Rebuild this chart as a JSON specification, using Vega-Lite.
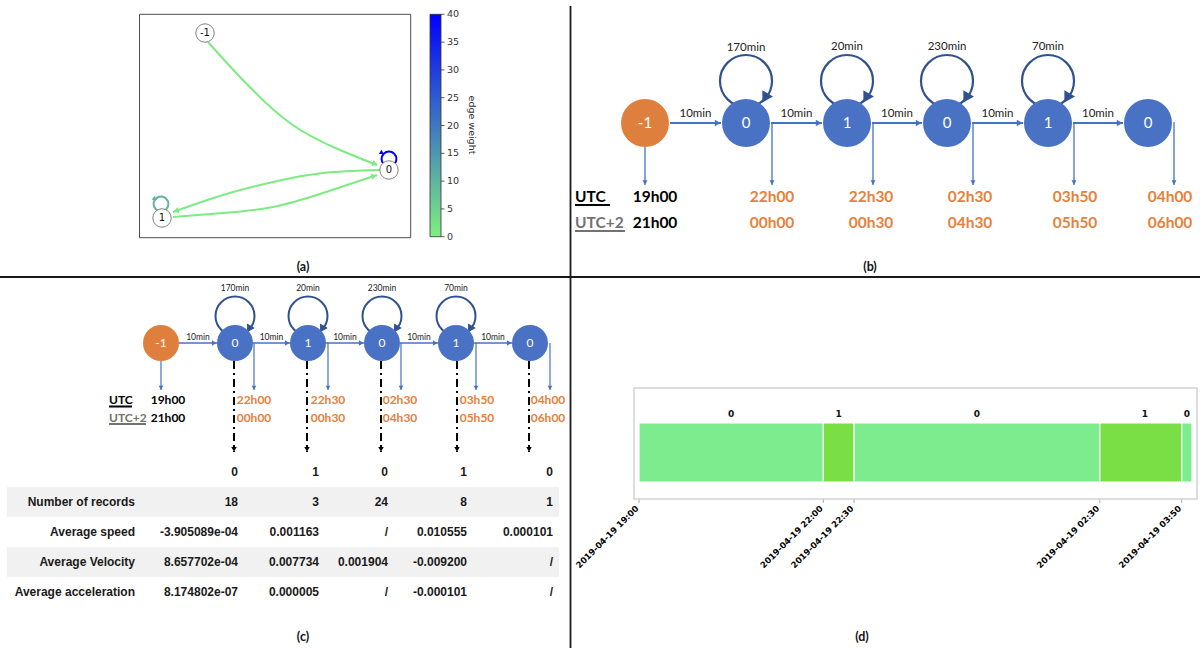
{
"$schema":"https://vega.github.io/schema/vega-lite/v6.json",
"width":1200,"height":648,"autosize":"none","padding":0,"background":"white",
"config":{"view":{"stroke":null}},
"datasets":{
"dividers":[{"x":570.5,"y":6,"xe":570.5,"ye":648},{"x":0,"y":277,"xe":1200,"ye":277}],
"frames":[{"p":"a","x":139.5,"y":14.3,"xe":410.7,"ye":237.7},{"p":"d","x":634,"y":388,"xe":1197,"ye":499}],
"plabels":[{"x":303,"y":267,"text":"(a)"},{"x":870,"y":267,"text":"(b)"},{"x":303,"y":637,"text":"(c)"},{"x":862,"y":637,"text":"(d)"}],
"bnodes":[{"x":645,"y":123,"label":"-1","kind":"start"},{"x":746,"y":123,"label":"0","kind":"state"},{"x":847,"y":123,"label":"1","kind":"state"},{"x":947,"y":123,"label":"0","kind":"state"},{"x":1048,"y":123,"label":"1","kind":"state"},{"x":1148,"y":123,"label":"0","kind":"state"}],
"bloops":[{"x":746,"y":81},{"x":847,"y":81},{"x":947,"y":81},{"x":1048,"y":81}],
"bh":[{"x":670,"xe":721,"y":123},{"x":771,"xe":822,"y":123},{"x":872,"xe":922,"y":123},{"x":972,"xe":1023,"y":123},{"x":1073,"xe":1123,"y":123}],
"bv":[{"x":645,"y":147,"ye":185},{"x":772,"y":122,"ye":185},{"x":873,"y":122,"ye":185},{"x":973,"y":122,"ye":185},{"x":1074,"y":122,"ye":185},{"x":1174,"y":122,"ye":185}],
"btext":[{"x":695.5,"y":114,"text":"10min"},{"x":796.5,"y":114,"text":"10min"},{"x":897,"y":114,"text":"10min"},{"x":997.5,"y":114,"text":"10min"},{"x":1098,"y":114,"text":"10min"},{"x":746,"y":48,"text":"170min"},{"x":847,"y":47,"text":"20min"},{"x":947,"y":47,"text":"230min"},{"x":1048,"y":47,"text":"70min"}],
"cnodes":[{"x":161,"y":343,"label":"-1","kind":"start"},{"x":235,"y":343,"label":"0","kind":"state"},{"x":308,"y":343,"label":"1","kind":"state"},{"x":382,"y":343,"label":"0","kind":"state"},{"x":456,"y":343,"label":"1","kind":"state"},{"x":530,"y":343,"label":"0","kind":"state"}],
"cloops":[{"x":235,"y":316},{"x":308,"y":316},{"x":382,"y":316},{"x":456,"y":316}],
"ch":[{"x":179,"xe":217,"y":343},{"x":253,"xe":290,"y":343},{"x":326,"xe":364,"y":343},{"x":400,"xe":438,"y":343},{"x":474,"xe":512,"y":343}],
"cv":[{"x":161,"y":361,"ye":390},{"x":254,"y":343,"ye":390},{"x":328,"y":343,"ye":390},{"x":401,"y":343,"ye":390},{"x":476,"y":343,"ye":390},{"x":550,"y":343,"ye":390}],
"cdash":[{"x":234,"y":361,"ye":452},{"x":307,"y":361,"ye":452},{"x":381,"y":361,"ye":452},{"x":457,"y":361,"ye":452},{"x":529,"y":361,"ye":452}],
"ctext":[{"x":198,"y":337,"text":"10min"},{"x":271.5,"y":337,"text":"10min"},{"x":345,"y":337,"text":"10min"},{"x":419,"y":337,"text":"10min"},{"x":493,"y":337,"text":"10min"},{"x":235,"y":288,"text":"170min"},{"x":308,"y":288,"text":"20min"},{"x":382,"y":288,"text":"230min"},{"x":456,"y":288,"text":"70min"}],
"stamps":[
{"p":"b","tone":"base","x":655,"y":197,"text":"19h00"},{"p":"b","tone":"base","x":655,"y":223,"text":"21h00"},
{"p":"b","tone":"shift","x":772,"y":197,"text":"22h00"},{"p":"b","tone":"shift","x":871,"y":197,"text":"22h30"},{"p":"b","tone":"shift","x":970,"y":197,"text":"02h30"},{"p":"b","tone":"shift","x":1075,"y":197,"text":"03h50"},{"p":"b","tone":"shift","x":1170,"y":197,"text":"04h00"},
{"p":"b","tone":"shift","x":772,"y":223,"text":"00h00"},{"p":"b","tone":"shift","x":871,"y":223,"text":"00h30"},{"p":"b","tone":"shift","x":970,"y":223,"text":"04h30"},{"p":"b","tone":"shift","x":1075,"y":223,"text":"05h50"},{"p":"b","tone":"shift","x":1170,"y":223,"text":"06h00"},
{"p":"c","tone":"base","x":168,"y":400,"text":"19h00"},{"p":"c","tone":"base","x":168,"y":418,"text":"21h00"},
{"p":"c","tone":"shift","x":254,"y":400,"text":"22h00"},{"p":"c","tone":"shift","x":328,"y":400,"text":"22h30"},{"p":"c","tone":"shift","x":400,"y":400,"text":"02h30"},{"p":"c","tone":"shift","x":477,"y":400,"text":"03h50"},{"p":"c","tone":"shift","x":548,"y":400,"text":"04h00"},
{"p":"c","tone":"shift","x":254,"y":418,"text":"00h00"},{"p":"c","tone":"shift","x":328,"y":418,"text":"00h30"},{"p":"c","tone":"shift","x":400,"y":418,"text":"04h30"},{"p":"c","tone":"shift","x":477,"y":418,"text":"05h50"},{"p":"c","tone":"shift","x":548,"y":418,"text":"06h00"}],
"tz":[{"p":"b","tone":"utc","x":575,"y":197,"text":"UTC"},{"p":"b","tone":"local","x":575,"y":223,"text":"UTC+2"},{"p":"c","tone":"utc","x":109,"y":400,"text":"UTC"},{"p":"c","tone":"local","x":109,"y":418,"text":"UTC+2"}],
"tzline":[{"tone":"utc","x":575,"xe":610,"y":205},{"tone":"local","x":575,"xe":625,"y":231},{"tone":"utc","x":109,"xe":132,"y":406.5},{"tone":"local","x":109,"xe":146,"y":424}],
"aedges":[
{"e":"e1","i":0,"x":208,"y":42,"w":1},{"e":"e1","i":1,"x":240,"y":77,"w":1},{"e":"e1","i":2,"x":290,"y":123,"w":1},{"e":"e1","i":3,"x":340,"y":150,"w":1},{"e":"e1","i":4,"x":377,"y":165,"w":1},
{"e":"e2","i":0,"x":380,"y":170,"w":1},{"e":"e2","i":1,"x":323,"y":173,"w":1},{"e":"e2","i":2,"x":273,"y":182,"w":1},{"e":"e2","i":3,"x":223,"y":195,"w":1},{"e":"e2","i":4,"x":173,"y":212,"w":1},
{"e":"e3","i":0,"x":173,"y":217,"w":1},{"e":"e3","i":1,"x":223,"y":213,"w":1},{"e":"e3","i":2,"x":273,"y":207,"w":1},{"e":"e3","i":3,"x":323,"y":193,"w":1},{"e":"e3","i":4,"x":377,"y":175,"w":1}],
"aloops":[{"x":389,"y":159,"w":40},{"x":161,"y":204,"w":10}],
"aarrows":[{"k":"e1","x":375,"y":164,"w":1},{"k":"e2","x":176,"y":211,"w":1},{"k":"e3","x":374,"y":176,"w":1},{"k":"l0","x":382,"y":153,"w":40},{"k":"l1","x":155,"y":199,"w":10}],
"anodes":[{"x":205,"y":33,"label":"-1"},{"x":389,"y":170,"label":"0"},{"x":162,"y":218,"label":"1"}],
"cbticks":[{"v":0},{"v":5},{"v":10},{"v":15},{"v":20},{"v":25},{"v":30},{"v":35},{"v":40}],
"tbands":[{"r0":0.5,"r1":1.5},{"r0":2.5,"r1":3.5}],
"table":[
{"row":0,"col":1,"text":"0"},{"row":0,"col":2,"text":"1"},{"row":0,"col":3,"text":"0"},{"row":0,"col":4,"text":"1"},{"row":0,"col":5,"text":"0"},
{"row":1,"col":0,"text":"Number of records"},{"row":1,"col":1,"text":"18"},{"row":1,"col":2,"text":"3"},{"row":1,"col":3,"text":"24"},{"row":1,"col":4,"text":"8"},{"row":1,"col":5,"text":"1"},
{"row":2,"col":0,"text":"Average speed"},{"row":2,"col":1,"text":"-3.905089e-04"},{"row":2,"col":2,"text":"0.001163"},{"row":2,"col":3,"text":"/"},{"row":2,"col":4,"text":"0.010555"},{"row":2,"col":5,"text":"0.000101"},
{"row":3,"col":0,"text":"Average Velocity"},{"row":3,"col":1,"text":"8.657702e-04"},{"row":3,"col":2,"text":"0.007734"},{"row":3,"col":3,"text":"0.001904"},{"row":3,"col":4,"text":"-0.009200"},{"row":3,"col":5,"text":"/"},
{"row":4,"col":0,"text":"Average acceleration"},{"row":4,"col":1,"text":"8.174802e-07"},{"row":4,"col":2,"text":"0.000005"},{"row":4,"col":3,"text":"/"},{"row":4,"col":4,"text":"-0.000101"},{"row":4,"col":5,"text":"/"}],
"timeline":[
{"start":"2019-04-19T19:00:00","end":"2019-04-19T22:00:00","mid":"2019-04-19T20:30:00","state":"0"},
{"start":"2019-04-19T22:00:00","end":"2019-04-19T22:30:00","mid":"2019-04-19T22:15:00","state":"1"},
{"start":"2019-04-19T22:30:00","end":"2019-04-20T02:30:00","mid":"2019-04-20T00:30:00","state":"0"},
{"start":"2019-04-20T02:30:00","end":"2019-04-20T03:50:00","mid":"2019-04-20T03:14:00","state":"1"},
{"start":"2019-04-20T03:50:00","end":"2019-04-20T04:00:00","mid":"2019-04-20T03:55:00","state":"0"}],
"tticks":[{"t":"2019-04-19T19:00:00","label":"2019-04-19 19:00"},{"t":"2019-04-19T22:00:00","label":"2019-04-19 22:00"},{"t":"2019-04-19T22:30:00","label":"2019-04-19 22:30"},{"t":"2019-04-20T02:30:00","label":"2019-04-19 02:30"},{"t":"2019-04-20T03:50:00","label":"2019-04-19 03:50"}]
},
"resolve":{"scale":{"x":"independent","y":"independent","color":"independent"}},
"layer":[
{
"encoding":{"x":{"field":"x","type":"quantitative","scale":{"domain":[0,1200],"range":[0,1200],"nice":false,"zero":false},"axis":null},
"y":{"field":"y","type":"quantitative","scale":{"domain":[0,648],"range":[0,648],"nice":false,"zero":false},"axis":null}},
"layer":[
{"data":{"name":"dividers"},"mark":{"type":"rule","color":"#1a1a1a","strokeWidth":1.8},"encoding":{"x2":{"field":"xe"},"y2":{"field":"ye"}}},
{"data":{"name":"frames"},"transform":[{"filter":"datum.p==='a'"}],"mark":{"type":"rect","filled":false,"color":"#4d4d4d","strokeWidth":1},"encoding":{"x2":{"field":"xe"},"y2":{"field":"ye"}}},
{"data":{"name":"frames"},"transform":[{"filter":"datum.p==='d'"}],"mark":{"type":"rect","filled":false,"color":"#d2d2d2","strokeWidth":1.5},"encoding":{"x2":{"field":"xe"},"y2":{"field":"ye"}}},
{"data":{"name":"plabels"},"mark":{"type":"text","font":"Lato","fontWeight":"bold","fontSize":12.5,"color":"#111"},"encoding":{"text":{"field":"text"}}},
{"data":{"values":[{"x":472,"y":125,"text":"edge weight"}]},"mark":{"type":"text","font":"DejaVu Sans","fontSize":9.5,"angle":90,"color":"#333"},"encoding":{"text":{"field":"text"}}},
{"data":{"name":"bloops"},"mark":{"type":"point","shape":"circle","filled":false,"size":2704,"color":"#2F528F","strokeWidth":2.2,"opacity":1}},
{"data":{"name":"bloops"},"mark":{"type":"point","shape":"triangle-up","filled":true,"size":150,"color":"#2F528F","opacity":1,"angle":210,"xOffset":19,"yOffset":17}},
{"data":{"name":"bh"},"mark":{"type":"rule","color":"#4472C4","strokeWidth":2},"encoding":{"x2":{"field":"xe"}}},
{"data":{"name":"bh"},"mark":{"type":"point","shape":"triangle-right","filled":true,"size":45,"color":"#4472C4","opacity":1,"xOffset":-3.3},"encoding":{"x":{"field":"xe","type":"quantitative","scale":{"domain":[0,1200],"range":[0,1200],"nice":false,"zero":false},"axis":null}}},
{"data":{"name":"bv"},"mark":{"type":"rule","color":"#4472C4","strokeWidth":1.3},"encoding":{"y2":{"field":"ye"}}},
{"data":{"name":"bv"},"mark":{"type":"point","shape":"triangle-down","filled":true,"size":25,"color":"#4472C4","opacity":1,"yOffset":-2.5},"encoding":{"y":{"field":"ye","type":"quantitative","scale":{"domain":[0,648],"range":[0,648],"nice":false,"zero":false},"axis":null}}},
{"data":{"name":"bnodes"},"mark":{"type":"point","shape":"circle","filled":true,"size":2304,"opacity":1,"strokeWidth":0},"encoding":{"color":{"field":"kind","type":"nominal","scale":{"domain":["start","state"],"range":["#DF7F3E","#4A72C4"]},"legend":null}}},
{"data":{"name":"bnodes"},"mark":{"type":"text","font":"Lato","fontSize":15,"color":"white"},"encoding":{"text":{"field":"label"}}},
{"data":{"name":"btext"},"mark":{"type":"text","font":"Lato","fontSize":11.5,"color":"#222"},"encoding":{"text":{"field":"text"}}},
{"data":{"name":"cloops"},"mark":{"type":"point","shape":"circle","filled":false,"size":1521,"color":"#2F528F","strokeWidth":2,"opacity":1}},
{"data":{"name":"cloops"},"mark":{"type":"point","shape":"triangle-up","filled":true,"size":80,"color":"#2F528F","opacity":1,"angle":210,"xOffset":14,"yOffset":13}},
{"data":{"name":"ch"},"mark":{"type":"rule","color":"#4472C4","strokeWidth":1.6},"encoding":{"x2":{"field":"xe"}}},
{"data":{"name":"ch"},"mark":{"type":"point","shape":"triangle-right","filled":true,"size":30,"color":"#4472C4","opacity":1,"xOffset":-2.7},"encoding":{"x":{"field":"xe","type":"quantitative","scale":{"domain":[0,1200],"range":[0,1200],"nice":false,"zero":false},"axis":null}}},
{"data":{"name":"cv"},"mark":{"type":"rule","color":"#4472C4","strokeWidth":1.2},"encoding":{"y2":{"field":"ye"}}},
{"data":{"name":"cv"},"mark":{"type":"point","shape":"triangle-down","filled":true,"size":22,"color":"#4472C4","opacity":1,"yOffset":-2.3},"encoding":{"y":{"field":"ye","type":"quantitative","scale":{"domain":[0,648],"range":[0,648],"nice":false,"zero":false},"axis":null}}},
{"data":{"name":"cdash"},"mark":{"type":"rule","color":"#000","strokeWidth":2,"strokeDash":[8,4,2,4]},"encoding":{"y2":{"field":"ye"}}},
{"data":{"name":"cdash"},"mark":{"type":"point","shape":"triangle-down","filled":true,"size":30,"color":"#000","opacity":1,"yOffset":-2.7},"encoding":{"y":{"field":"ye","type":"quantitative","scale":{"domain":[0,648],"range":[0,648],"nice":false,"zero":false},"axis":null}}},
{"data":{"name":"cnodes"},"mark":{"type":"point","shape":"circle","filled":true,"size":1296,"opacity":1,"strokeWidth":0},"encoding":{"color":{"field":"kind","type":"nominal","scale":{"domain":["start","state"],"range":["#DF7F3E","#4A72C4"]},"legend":null}}},
{"data":{"name":"cnodes"},"mark":{"type":"text","font":"Lato","fontSize":12,"color":"white"},"encoding":{"text":{"field":"label"}}},
{"data":{"name":"ctext"},"mark":{"type":"text","font":"Lato","fontSize":8.5,"color":"#222"},"encoding":{"text":{"field":"text"}}},
{"data":{"name":"stamps"},"transform":[{"filter":"datum.p==='b' && datum.tone==='base'"}],"mark":{"type":"text","font":"Lato","fontWeight":"bold","fontSize":15.5,"color":"#000"},"encoding":{"text":{"field":"text"}}},
{"data":{"name":"stamps"},"transform":[{"filter":"datum.p==='b' && datum.tone==='shift'"}],"mark":{"type":"text","font":"Lato","fontWeight":"bold","fontSize":15.5,"color":"#E8803A"},"encoding":{"text":{"field":"text"}}},
{"data":{"name":"stamps"},"transform":[{"filter":"datum.p==='c' && datum.tone==='base'"}],"mark":{"type":"text","font":"Lato","fontWeight":"bold","fontSize":12,"color":"#000"},"encoding":{"text":{"field":"text"}}},
{"data":{"name":"stamps"},"transform":[{"filter":"datum.p==='c' && datum.tone==='shift'"}],"mark":{"type":"text","font":"Lato","fontWeight":"bold","fontSize":12,"color":"#E8803A"},"encoding":{"text":{"field":"text"}}},
{"data":{"name":"tz"},"transform":[{"filter":"datum.p==='b' && datum.tone==='utc'"}],"mark":{"type":"text","align":"left","font":"Lato","fontWeight":"bold","fontSize":15.5,"color":"#000"},"encoding":{"text":{"field":"text"}}},
{"data":{"name":"tz"},"transform":[{"filter":"datum.p==='b' && datum.tone==='local'"}],"mark":{"type":"text","align":"left","font":"Lato","fontWeight":"bold","fontSize":15.5,"color":"#767171"},"encoding":{"text":{"field":"text"}}},
{"data":{"name":"tz"},"transform":[{"filter":"datum.p==='c' && datum.tone==='utc'"}],"mark":{"type":"text","align":"left","font":"Lato","fontWeight":"bold","fontSize":12,"color":"#000"},"encoding":{"text":{"field":"text"}}},
{"data":{"name":"tz"},"transform":[{"filter":"datum.p==='c' && datum.tone==='local'"}],"mark":{"type":"text","align":"left","font":"Lato","fontWeight":"bold","fontSize":12,"color":"#767171"},"encoding":{"text":{"field":"text"}}},
{"data":{"name":"tzline"},"transform":[{"filter":"datum.tone==='utc'"}],"mark":{"type":"rule","color":"#000","strokeWidth":2},"encoding":{"x2":{"field":"xe"}}},
{"data":{"name":"tzline"},"transform":[{"filter":"datum.tone==='local'"}],"mark":{"type":"rule","color":"#767171","strokeWidth":2},"encoding":{"x2":{"field":"xe"}}}
]
},
{
"encoding":{"x":{"field":"x","type":"quantitative","scale":{"domain":[0,1200],"range":[0,1200],"nice":false,"zero":false},"axis":null},
"y":{"field":"y","type":"quantitative","scale":{"domain":[0,648],"range":[0,648],"nice":false,"zero":false},"axis":null}},
"layer":[
{"data":{"name":"aedges"},"mark":{"type":"line","interpolate":"natural","strokeWidth":2},"encoding":{"detail":{"field":"e"},"order":{"field":"i","type":"quantitative"},"color":{"field":"w","type":"quantitative","scale":{"domain":[0,40],"range":["#80f080","#0000ff"],"interpolate":"rgb"},"legend":null}}},
{"data":{"name":"aloops"},"mark":{"type":"point","shape":"circle","filled":false,"size":220,"strokeWidth":2,"opacity":1},"encoding":{"color":{"field":"w","type":"quantitative","scale":{"domain":[0,40],"range":["#80f080","#0000ff"],"interpolate":"rgb"},"legend":null}}},
{"data":{"name":"aarrows"},"transform":[{"filter":"datum.k==='e1'"}],"mark":{"type":"point","shape":"triangle-up","filled":true,"size":40,"angle":112,"opacity":1},"encoding":{"color":{"field":"w","type":"quantitative","scale":{"domain":[0,40],"range":["#80f080","#0000ff"],"interpolate":"rgb"},"legend":null}}},
{"data":{"name":"aarrows"},"transform":[{"filter":"datum.k==='e2'"}],"mark":{"type":"point","shape":"triangle-up","filled":true,"size":40,"angle":251,"opacity":1},"encoding":{"color":{"field":"w","type":"quantitative","scale":{"domain":[0,40],"range":["#80f080","#0000ff"],"interpolate":"rgb"},"legend":null}}},
{"data":{"name":"aarrows"},"transform":[{"filter":"datum.k==='e3'"}],"mark":{"type":"point","shape":"triangle-up","filled":true,"size":40,"angle":72,"opacity":1},"encoding":{"color":{"field":"w","type":"quantitative","scale":{"domain":[0,40],"range":["#80f080","#0000ff"],"interpolate":"rgb"},"legend":null}}},
{"data":{"name":"aarrows"},"transform":[{"filter":"datum.k==='l0' || datum.k==='l1'"}],"mark":{"type":"point","shape":"triangle-up","filled":true,"size":25,"angle":120,"opacity":1},"encoding":{"color":{"field":"w","type":"quantitative","scale":{"domain":[0,40],"range":["#80f080","#0000ff"],"interpolate":"rgb"},"legend":null}}},
{"data":{"name":"anodes"},"mark":{"type":"point","shape":"circle","filled":true,"size":340,"fill":"white","stroke":"#808080","strokeWidth":1,"opacity":1}},
{"data":{"name":"anodes"},"mark":{"type":"text","font":"DejaVu Sans","fontSize":10,"color":"#111"},"encoding":{"text":{"field":"label"}}}
]
},
{
"layer":[
{"data":{"values":[{}]},"mark":{"type":"rect","fill":{"gradient":"linear","x1":0,"y1":1,"x2":0,"y2":0,"stops":[{"offset":0,"color":"#80f080"},{"offset":1,"color":"#0000ff"}]},"stroke":"#333","strokeWidth":0.8},
"encoding":{"x":{"datum":430,"type":"quantitative","scale":{"domain":[0,1200],"range":[0,1200],"nice":false,"zero":false},"axis":null},"x2":{"datum":441},
"y":{"datum":0,"type":"quantitative","scale":{"domain":[0,40],"range":[236.7,14.3],"nice":false,"zero":false},"axis":null},"y2":{"datum":40}}},
{"data":{"name":"cbticks"},"mark":{"type":"rule","color":"#333","strokeWidth":0.8},
"encoding":{"x":{"datum":441,"type":"quantitative","scale":{"domain":[0,1200],"range":[0,1200],"nice":false,"zero":false},"axis":null},"x2":{"datum":444.5},
"y":{"field":"v","type":"quantitative","scale":{"domain":[0,40],"range":[236.7,14.3],"nice":false,"zero":false},"axis":null}}},
{"data":{"name":"cbticks"},"mark":{"type":"text","align":"left","font":"DejaVu Sans","fontSize":9.5,"color":"#333"},
"encoding":{"x":{"datum":447,"type":"quantitative","scale":{"domain":[0,1200],"range":[0,1200],"nice":false,"zero":false},"axis":null},
"y":{"field":"v","type":"quantitative","scale":{"domain":[0,40],"range":[236.7,14.3],"nice":false,"zero":false},"axis":null},"text":{"field":"v","type":"quantitative"}}}
]
},
{
"layer":[
{"data":{"name":"tbands"},"mark":{"type":"rect","color":"#f1f1f1"},
"encoding":{"x":{"datum":-1,"type":"quantitative","scale":{"domain":[-1,0,1,2,3,4,5,6],"range":[7,135,238,319,388,467,553,559],"nice":false,"zero":false},"axis":null},"x2":{"datum":6},
"y":{"field":"r0","type":"quantitative","scale":{"domain":[0,4],"range":[472,592],"nice":false,"zero":false},"axis":null},"y2":{"field":"r1"}}},
{"data":{"name":"table"},"mark":{"type":"text","align":"right","font":"Liberation Sans","fontWeight":"bold","fontSize":12,"color":"#1a1a1a"},
"encoding":{"x":{"field":"col","type":"quantitative","scale":{"domain":[-1,0,1,2,3,4,5,6],"range":[7,135,238,319,388,467,553,559],"nice":false,"zero":false},"axis":null},
"y":{"field":"row","type":"quantitative","scale":{"domain":[0,4],"range":[472,592],"nice":false,"zero":false},"axis":null},"text":{"field":"text"}}}
]
},
{
"layer":[
{"data":{"name":"timeline"},"mark":{"type":"rect","stroke":"white","strokeWidth":1.2},
"encoding":{"x":{"field":"start","type":"temporal","scale":{"domain":[{"year":2019,"month":4,"date":19,"hours":19},{"year":2019,"month":4,"date":20,"hours":4}],"range":[639,1192],"nice":false},"axis":null},"x2":{"field":"end"},
"y":{"datum":423,"type":"quantitative","scale":{"domain":[0,648],"range":[0,648],"nice":false,"zero":false},"axis":null},"y2":{"datum":482},
"color":{"field":"state","type":"nominal","scale":{"domain":["0","1"],"range":["#7DEC8E","#7ADF45"]},"legend":null}}},
{"data":{"name":"timeline"},"mark":{"type":"text","font":"DejaVu Sans","fontWeight":"bold","fontSize":9,"color":"#111"},
"encoding":{"x":{"field":"mid","type":"temporal","scale":{"domain":[{"year":2019,"month":4,"date":19,"hours":19},{"year":2019,"month":4,"date":20,"hours":4}],"range":[639,1192],"nice":false},"axis":null},
"y":{"datum":414,"type":"quantitative","scale":{"domain":[0,648],"range":[0,648],"nice":false,"zero":false},"axis":null},"text":{"field":"state"}}},
{"data":{"name":"tticks"},"mark":{"type":"rule","color":"#aaaaaa","strokeWidth":1},
"encoding":{"x":{"field":"t","type":"temporal","scale":{"domain":[{"year":2019,"month":4,"date":19,"hours":19},{"year":2019,"month":4,"date":20,"hours":4}],"range":[639,1192],"nice":false},"axis":null},
"y":{"datum":499.5,"type":"quantitative","scale":{"domain":[0,648],"range":[0,648],"nice":false,"zero":false},"axis":null},"y2":{"datum":503}}},
{"data":{"name":"tticks"},"mark":{"type":"text","font":"DejaVu Sans","fontWeight":"bold","fontSize":8.5,"color":"#000","angle":-45,"align":"right","baseline":"middle","xOffset":-2},
"encoding":{"x":{"field":"t","type":"temporal","scale":{"domain":[{"year":2019,"month":4,"date":19,"hours":19},{"year":2019,"month":4,"date":20,"hours":4}],"range":[639,1192],"nice":false},"axis":null},
"y":{"datum":507,"type":"quantitative","scale":{"domain":[0,648],"range":[0,648],"nice":false,"zero":false},"axis":null},"text":{"field":"label"}}}
]
}
]
}
